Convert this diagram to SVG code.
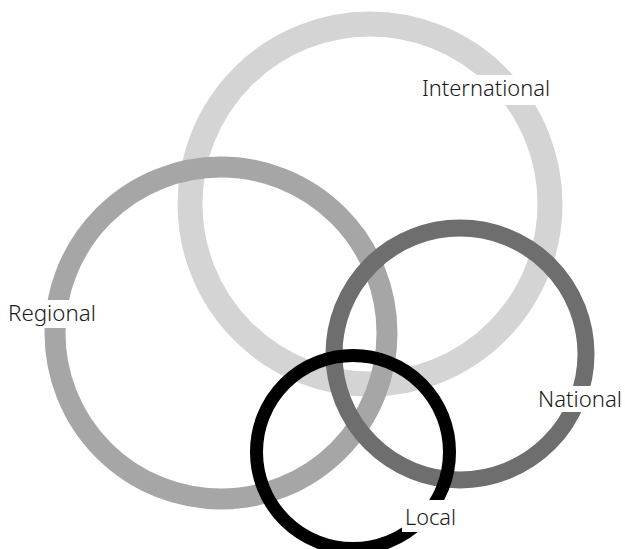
<svg xmlns="http://www.w3.org/2000/svg" width="625" height="549" viewBox="0 0 625 549">
<style>
.ring{fill:none}
.lbl{font-family:"Noto Sans","Open Sans","DejaVu Sans",sans-serif;font-size:21px;font-weight:300;fill:#1a1a1a}
.bg{fill:#ffffff}
</style>
<rect width="625" height="549" fill="#ffffff"/>
<g id="international"><circle class="ring" cx="370" cy="204" r="180" stroke="#d4d4d4" stroke-width="25"/></g>
<g id="regional"><circle class="ring" cx="221" cy="333" r="166" stroke="#a6a6a6" stroke-width="21"/></g>
<g id="national"><circle class="ring" cx="460" cy="354" r="126" stroke="#6e6e6e" stroke-width="17"/></g>
<g id="local"><circle class="ring" cx="353" cy="452" r="96.5" stroke="#000000" stroke-width="13"/></g>
<g id="label-international"><rect class="bg" x="418" y="75" width="135" height="30"/><text class="lbl" x="422" y="96" textLength="128" lengthAdjust="spacingAndGlyphs">International</text></g>
<g id="label-regional"><rect class="bg" x="3" y="300" width="98" height="28"/><text class="lbl" x="8" y="321" textLength="88" lengthAdjust="spacingAndGlyphs">Regional</text></g>
<g id="label-national"><rect class="bg" x="534" y="386" width="91" height="26"/><text class="lbl" x="538" y="407" textLength="84" lengthAdjust="spacingAndGlyphs">National</text></g>
<g id="label-local"><rect class="bg" x="402" y="500" width="56" height="32"/><text class="lbl" x="405" y="525" textLength="51" lengthAdjust="spacingAndGlyphs">Local</text></g>
</svg>
